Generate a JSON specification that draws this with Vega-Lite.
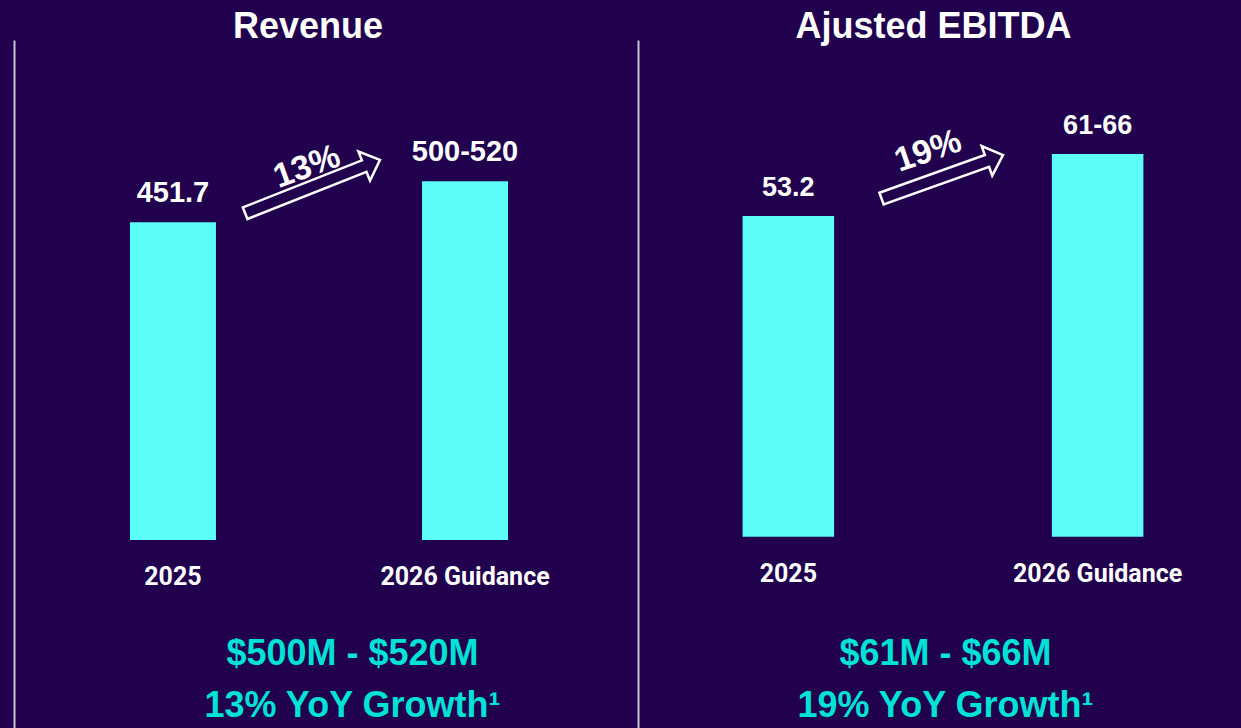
{
  "$schema": "https://vega.github.io/schema/vega-lite/v6.json",
  "background": "#21004e",
  "padding": {"left": 14, "top": 8, "right": 0, "bottom": 0},
  "spacing": 14,
  "config": {"view": {"stroke": null}, "font": "Liberation Sans"},
  "datasets": {
    "fin": [
      {"panel": "Revenue", "cat": "2025", "value": 451.7, "label": "451.7"},
      {"panel": "Revenue", "cat": "2026 Guidance", "value": 510, "label": "500-520"},
      {"panel": "EBITDA", "cat": "2025", "value": 53.2, "label": "53.2"},
      {"panel": "EBITDA", "cat": "2026 Guidance", "value": 63.5, "label": "61-66"}
    ],
    "growth": [
      {"panel": "Revenue", "cat": "2025", "growth": "13%"},
      {"panel": "EBITDA", "cat": "2025", "growth": "19%"}
    ]
  },
  "hconcat": [
    {
      "width": 610,
      "height": 688,
      "title": {"text": "Revenue", "fontSize": 36, "font": "Liberation Sans", "fontWeight": "bold", "color": "white", "baseline": "bottom", "offset": -41.6, "dx": -11, "anchor": "middle"},
      "layer": [
        {
          "data": {"name": "fin"},
          "transform": [{"filter": "datum.panel === 'Revenue'"}],
          "mark": {"type": "bar", "color": "#5cfdf6"},
          "encoding": {
            "x": {
              "field": "cat", "type": "nominal", "sort": null,
              "scale": {"paddingInner": 0.7055, "paddingOuter": 0.397},
              "axis": {
                "title": ["$500M - $520M", "13% YoY Growth¹"],
                "offset": -188, "domain": false, "ticks": false, "tickSize": 0, "grid": false,
                "labelPadding": 44, "labelBaseline": "alphabetic", "labelAngle": 0,
                "labelFont": "Roboto", "labelFontWeight": "bold", "labelFontSize": 25, "labelColor": "white",
                "titleFont": "Liberation Sans", "titleFontSize": 36, "titleFontWeight": "bold", "titleColor": "#00e2d6",
                "titleX": 338, "titleY": 124, "titleBaseline": "alphabetic", "titleAlign": "center", "titleLineHeight": 52
              }
            },
            "y": {
              "field": "value", "type": "quantitative",
              "scale": {"domain": [-267.2, 710.7], "nice": false},
              "axis": {"domain": true, "domainColor": "#c5c5cd", "domainWidth": 2, "labels": false, "ticks": false, "grid": false, "title": null}
            }
          }
        },
        {
          "data": {"name": "fin"},
          "transform": [{"filter": "datum.panel === 'Revenue'"}],
          "mark": {"type": "text", "color": "white", "font": "Liberation Sans", "fontWeight": "bold", "fontSize": 29, "baseline": "alphabetic", "align": "center", "dy": -20},
          "encoding": {
            "x": {"field": "cat", "type": "nominal", "sort": null},
            "y": {"field": "value", "type": "quantitative"},
            "text": {"field": "label"}
          }
        },
        {
          "data": {"name": "growth"},
          "transform": [{"filter": "datum.panel === 'Revenue'"}],
          "mark": {"type": "point", "shape": "M -1 -0.086 L 0.766 -0.086 L 0.766 -0.217 L 1 0 L 0.766 0.217 L 0.766 0.086 L -1 0.086 Z", "size": 21025, "filled": false, "stroke": "white", "strokeWidth": 2.5, "angle": 338.4, "opacity": 1, "xOffset": 139.6},
          "encoding": {
            "x": {"field": "cat", "type": "nominal", "sort": null},
            "y": {"datum": 502.4, "type": "quantitative"}
          }
        },
        {
          "data": {"name": "growth"},
          "transform": [{"filter": "datum.panel === 'Revenue'"}],
          "mark": {"type": "text", "color": "white", "font": "Liberation Sans", "fontWeight": "bold", "fontSize": 34, "baseline": "middle", "align": "center", "angle": 340, "xOffset": 134},
          "encoding": {
            "x": {"field": "cat", "type": "nominal", "sort": null},
            "y": {"datum": 529.8, "type": "quantitative"},
            "text": {"field": "growth"}
          }
        }
      ]
    },
    {
      "width": 610,
      "height": 688,
      "title": {"text": "Ajusted EBITDA", "fontSize": 36, "font": "Liberation Sans", "fontWeight": "bold", "color": "white", "baseline": "bottom", "offset": -41.6, "dx": -9.5, "anchor": "middle"},
      "layer": [
        {
          "data": {"name": "fin"},
          "transform": [{"filter": "datum.panel === 'EBITDA'"}],
          "mark": {"type": "bar", "color": "#5cfdf6"},
          "encoding": {
            "x": {
              "field": "cat", "type": "nominal", "sort": null,
              "scale": {"paddingInner": 0.7041, "paddingOuter": 0.3382},
              "axis": {
                "title": ["$61M - $66M", "19% YoY Growth¹"],
                "offset": -191, "domain": false, "ticks": false, "tickSize": 0, "grid": false,
                "labelPadding": 44, "labelBaseline": "alphabetic", "labelAngle": 0,
                "labelFont": "Roboto", "labelFontWeight": "bold", "labelFontSize": 25, "labelColor": "white",
                "titleFont": "Liberation Sans", "titleFontSize": 36, "titleFontWeight": "bold", "titleColor": "#00e2d6",
                "titleX": 307, "titleY": 127, "titleBaseline": "alphabetic", "titleAlign": "center", "titleLineHeight": 52
              }
            },
            "y": {
              "field": "value", "type": "quantitative",
              "scale": {"domain": [-31.7, 82.4], "nice": false},
              "axis": {"domain": true, "domainColor": "#c5c5cd", "domainWidth": 2, "labels": false, "ticks": false, "grid": false, "title": null}
            }
          }
        },
        {
          "data": {"name": "fin"},
          "transform": [{"filter": "datum.panel === 'EBITDA'"}],
          "mark": {"type": "text", "color": "white", "font": "Liberation Sans", "fontWeight": "bold", "fontSize": 27, "baseline": "alphabetic", "align": "center", "dy": -20},
          "encoding": {
            "x": {"field": "cat", "type": "nominal", "sort": null},
            "y": {"field": "value", "type": "quantitative"},
            "text": {"field": "label"}
          }
        },
        {
          "data": {"name": "growth"},
          "transform": [{"filter": "datum.panel === 'EBITDA'"}],
          "mark": {"type": "point", "shape": "M -1 -0.097 L 0.736 -0.097 L 0.736 -0.243 L 1 0 L 0.736 0.243 L 0.736 0.097 L -1 0.097 Z", "size": 16641, "filled": false, "stroke": "white", "strokeWidth": 2.5, "angle": 340.3, "opacity": 1, "xOffset": 153.9},
          "encoding": {
            "x": {"field": "cat", "type": "nominal", "sort": null},
            "y": {"datum": 59.7, "type": "quantitative"}
          }
        },
        {
          "data": {"name": "growth"},
          "transform": [{"filter": "datum.panel === 'EBITDA'"}],
          "mark": {"type": "text", "color": "white", "font": "Liberation Sans", "fontWeight": "bold", "fontSize": 34, "baseline": "middle", "align": "center", "angle": 341, "xOffset": 139.8},
          "encoding": {
            "x": {"field": "cat", "type": "nominal", "sort": null},
            "y": {"datum": 63.9, "type": "quantitative"},
            "text": {"field": "growth"}
          }
        }
      ]
    }
  ]
}
